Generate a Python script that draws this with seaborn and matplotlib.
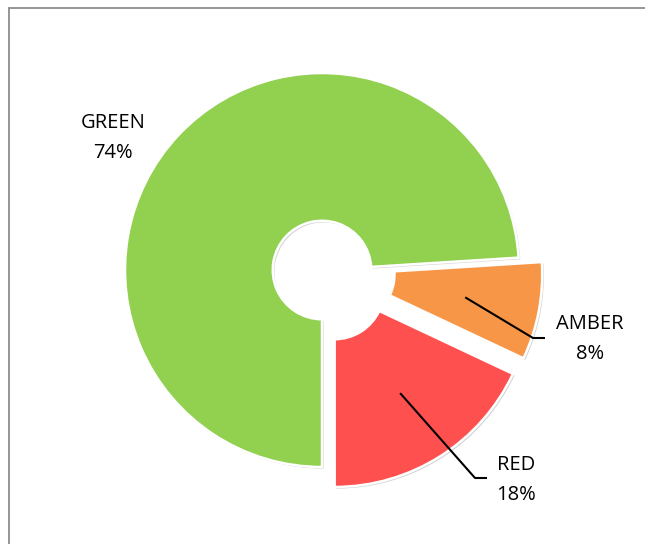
import numpy as np
import matplotlib
matplotlib.use('Agg')
import matplotlib.pyplot as plt
import matplotlib.patheffects as pe
from matplotlib.lines import Line2D
import seaborn as sns

# data
labels = ['GREEN', 'AMBER', 'RED']
shares = [74, 8, 18]
colors = ['#92D050', '#F79646', '#FF5050']
explode = [0, 0.12, 0.12]

sns.set_theme(style='white')
plt.rcParams['font.family'] = ['Open Sans', 'DejaVu Sans']

fig = plt.figure(figsize=(6.45, 5.44), dpi=100)
ax = fig.add_axes([0, 0, 1, 1])

# pie centre sits at (322, 270) px, radius 197 px
R = 197.0
cx, cy = 322.0, 270.0

wedges, _ = ax.pie(shares, colors=colors, startangle=-90, counterclock=False,
                   explode=explode, radius=1,
                   wedgeprops=dict(width=0.75, edgecolor='white', linewidth=1.8))
for w in wedges:
    w.set_path_effects([pe.SimplePatchShadow(offset=(1.2, -1.2), shadow_rgbFace='#999999', alpha=0.45),
                        pe.Normal()])
ax.set_xlim(-cx / R, (645 - cx) / R)
ax.set_ylim(-(544 - cy) / R, cy / R)
ax.axis('off')


def px(x, y):
    return (x - cx) / R, (cy - y) / R


# label layout: text centre, elbow of leader (None -> no leader)
text_pos = {'GREEN': px(113, 138), 'AMBER': px(590, 339), 'RED': px(516, 480)}
elbow_pos = {'GREEN': None, 'AMBER': (px(533, 338), px(545, 338)),
             'RED': (px(475, 478), px(487, 478))}

for w, lab, val in zip(wedges, labels, shares):
    tx, ty = text_pos[lab]
    ax.text(tx, ty, f'{lab}\n{val}%', ha='center', va='center', fontsize=14.5,
            color='black', linespacing=1.7)
    if elbow_pos[lab] is not None:
        ang = np.deg2rad((w.theta1 + w.theta2) / 2)
        x0 = w.center[0] + 0.62 * np.cos(ang)
        y0 = w.center[1] + 0.62 * np.sin(ang)
        (ex, ey), (fx, fy) = elbow_pos[lab]
        ax.plot([x0, ex, fx], [y0, ey, fy], color='black', lw=1.5,
                solid_capstyle='butt')

# chart area border (top and left visible)
fig.add_artist(Line2D([8.5 / 645, 1], [1 - 7.5 / 544, 1 - 7.5 / 544],
                      transform=fig.transFigure, color='#8c8c8c', lw=1.3))
fig.add_artist(Line2D([8.5 / 645, 8.5 / 645], [0, 1 - 7.5 / 544],
                      transform=fig.transFigure, color='#8c8c8c', lw=1.3))

fig.savefig('out.png', dpi=100, facecolor='white')
